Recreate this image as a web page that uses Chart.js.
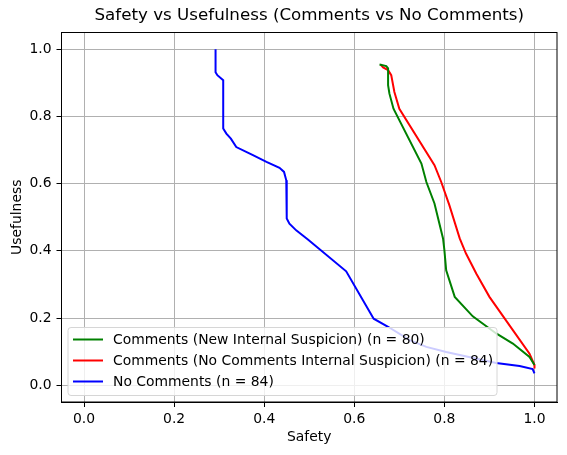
<!DOCTYPE html>
<html>
<head>
<meta charset="utf-8">
<script src="https://cdn.jsdelivr.net/npm/chart.js@4.4.1/dist/chart.umd.min.js"></script>
<style>
  html, body { margin: 0; padding: 0; background: #fff; }
  #wrap { width: 567px; height: 455px; }
</style>
</head>
<body>
<div id="wrap"><canvas id="chart" width="567" height="455"></canvas></div>
<script>
// Values
const tickValues = [0.0, 0.2, 0.4, 0.6, 0.8, 1.0];

const chartTitle = 'Safety vs Usefulness (Comments vs No Comments)';
const seriesLabels = [
    'Comments (New Internal Suspicion) (n = 80)',
    'Comments (No Comments Internal Suspicion) (n = 84)',
    'No Comments (n = 84)'
];
const seriesColors = ['#008000', '#ff0000', '#0000ff'];

const newSuspSafety = [0.656, 0.671, 0.675, 0.675, 0.678, 0.687, 0.749, 0.760, 0.778, 0.797, 0.800, 0.804, 0.823, 0.863, 0.915, 0.952, 0.989, 1.0];
const newSuspUseful = [0.955, 0.950, 0.943, 0.893, 0.868, 0.823, 0.660, 0.605, 0.541, 0.437, 0.402, 0.342, 0.263, 0.205, 0.154, 0.124, 0.084, 0.060];

const noCommSuspSafety = [0.658, 0.664, 0.675, 0.682, 0.689, 0.700, 0.778, 0.793, 0.811, 0.834, 0.848, 0.871, 0.900, 0.952, 0.989, 1.0, 1.0];
const noCommSuspUseful = [0.955, 0.946, 0.938, 0.923, 0.873, 0.823, 0.655, 0.605, 0.536, 0.437, 0.392, 0.332, 0.263, 0.164, 0.094, 0.060, 0.050];

const noCommSafety = [0.292, 0.292, 0.296, 0.309, 0.309, 0.316, 0.326, 0.338, 0.375, 0.405, 0.434, 0.444, 0.449, 0.450, 0.456, 0.471, 0.497, 0.582, 0.643, 0.675, 0.723, 0.760, 0.804, 0.915, 0.967, 0.996, 1.0];
const noCommUseful = [1.0, 0.932, 0.923, 0.908, 0.764, 0.749, 0.734, 0.709, 0.685, 0.665, 0.647, 0.635, 0.610, 0.496, 0.481, 0.461, 0.434, 0.339, 0.198, 0.174, 0.134, 0.114, 0.099, 0.066, 0.057, 0.048, 0.035];

function toPoints(xs, ys) {
    return xs.map((x, i) => ({ x: x, y: ys[i] }));
}

Chart.defaults.font.family = "'DejaVu Sans', sans-serif";
Chart.defaults.color = '#000';

// Matplotlib-like frame, title centred over the axes, and an in-axes legend
const framePlugin = {
    id: 'frameAndLegend',
    afterDraw(chart) {
        const { ctx, chartArea: a } = chart;
        ctx.save();
        ctx.strokeStyle = '#000';
        ctx.lineWidth = 1;
        ctx.strokeRect(a.left, a.top, a.right - a.left, a.bottom - a.top);

        // title over the plot area
        ctx.font = "16.7px 'DejaVu Sans'";
        ctx.textAlign = 'center';
        ctx.textBaseline = 'middle';
        ctx.fillStyle = '#000';
        ctx.fillText(chartTitle, (a.left + a.right) / 2, 15.5);

        // legend box, lower left
        const bx = a.left + 6.5, by = 327.5, bw = 429, bh = 68;
        ctx.beginPath();
        ctx.roundRect(bx, by, bw, bh, 3);
        ctx.fillStyle = 'rgba(255,255,255,0.8)';
        ctx.fill();
        ctx.strokeStyle = '#d6d6d6';
        ctx.stroke();

        ctx.font = "13.9px 'DejaVu Sans'";
        ctx.textAlign = 'left';
        ctx.textBaseline = 'middle';
        ctx.fillStyle = '#000';
        const rows = [339.5, 360.5, 381.5];
        chart.data.datasets.forEach((ds, i) => {
            ctx.beginPath();
            ctx.strokeStyle = ds.borderColor;
            ctx.lineWidth = 2;
            ctx.moveTo(73, rows[i]);
            ctx.lineTo(103, rows[i]);
            ctx.stroke();
            ctx.fillText(ds.label, 113, rows[i] + 1);
        });
        ctx.restore();
    }
};

const fixTicks = scale => {
    scale.ticks = tickValues.map(v => ({ value: v }));
};

new Chart(document.getElementById('chart'), {
    type: 'scatter',
    data: {
        datasets: [
            { label: seriesLabels[0], data: toPoints(newSuspSafety, newSuspUseful) },
            { label: seriesLabels[1], data: toPoints(noCommSuspSafety, noCommSuspUseful) },
            { label: seriesLabels[2], data: toPoints(noCommSafety, noCommUseful) }
        ].map((ds, i) => ({
            ...ds,
            showLine: true,
            borderColor: seriesColors[i],
            backgroundColor: seriesColors[i],
            borderWidth: 2,
            pointRadius: 0,
            tension: 0
        }))
    },
    options: {
        responsive: false,
        animation: false,
        layout: { padding: { left: 0, right: 10, top: 32.5, bottom: 0 } },
        plugins: {
            legend: { display: false },
            tooltip: { enabled: false },
            title: { display: false }
        },
        scales: {
            x: {
                type: 'linear',
                min: -0.05,
                max: 1.05,
                afterBuildTicks: fixTicks,
                afterFit: s => { s.height = 53; },
                grid: { color: '#b0b0b0', lineWidth: 1, tickColor: '#000', tickLength: 5 },
                border: { display: true, color: '#000', width: 1 },
                ticks: { font: { size: 13.9 }, padding: 4, callback: v => v.toFixed(1) },
                title: { display: true, text: 'Safety', font: { size: 13.9 }, padding: { top: 0, bottom: 9.7 } }
            },
            y: {
                type: 'linear',
                min: -0.05,
                max: 1.05,
                afterBuildTicks: fixTicks,
                afterFit: s => { s.width = 61.5; },
                grid: { color: '#b0b0b0', lineWidth: 1, tickColor: '#000', tickLength: 5 },
                border: { display: true, color: '#000', width: 1 },
                ticks: { font: { size: 13.9 }, padding: 5, callback: v => v.toFixed(1) },
                title: { display: true, text: 'Usefulness', font: { size: 13.9 }, padding: { top: 8.7, bottom: 0 } }
            }
        }
    },
    plugins: [framePlugin]
});
</script>
</body>
</html>
